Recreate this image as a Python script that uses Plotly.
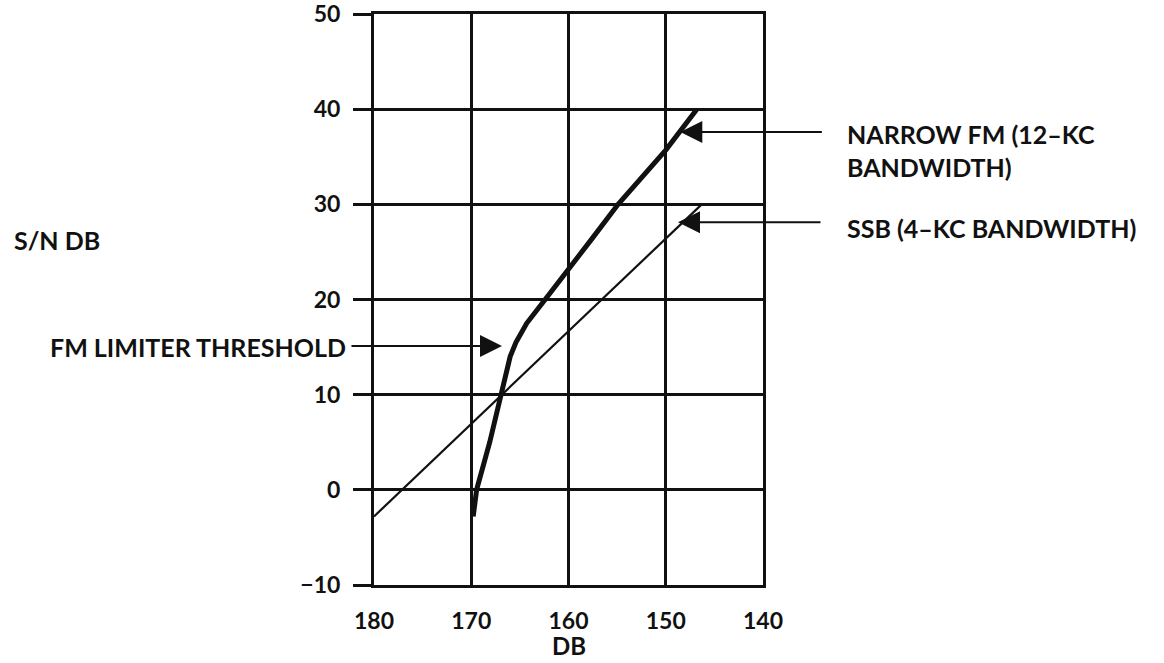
import plotly.graph_objects as go

# ---- data ----
fm_x = [169.8, 169.45, 168.1, 166.9, 166.0, 165.4, 164.3, 162.4, 160.0, 157.5, 154.9, 150.0, 146.8]
fm_y = [-2.8, 0.0, 5.0, 10.0, 14.0, 15.5, 17.5, 20.0, 23.1, 26.5, 30.0, 35.7, 40.0]
ssb_x = [180.0, 146.3]
ssb_y = [-2.8, 30.0]

x_ticks = [180, 170, 160, 150, 140]
y_ticks = [-10, 0, 10, 20, 30, 40, 50]

FONT = "Lato"
BLACK = "#111111"

fig = go.Figure()
fig.add_trace(go.Scatter(x=ssb_x, y=ssb_y, mode="lines",
                         line=dict(color=BLACK, width=2.2), showlegend=False, hoverinfo="skip"))
fig.add_trace(go.Scatter(x=fm_x, y=fm_y, mode="lines",
                         line=dict(color=BLACK, width=5), showlegend=False, hoverinfo="skip"))

fig.update_layout(
    width=1164, height=663,
    margin=dict(l=374, r=401, t=13.5, b=77.5),
    paper_bgcolor="white", plot_bgcolor="white",
    font=dict(family=FONT, size=23, color=BLACK, weight=700),
    showlegend=False,
)
fig.update_xaxes(range=[180, 140], tickvals=x_ticks, ticktext=[str(v) for v in x_ticks],
                 showgrid=True, gridcolor=BLACK, gridwidth=2.5, zeroline=False,
                 showline=True, linecolor=BLACK, linewidth=3, mirror=True,
                 ticks="", ticklabelstandoff=13, ticklabeloverflow="allow", automargin=False,
                 tickfont=dict(family=FONT, size=23, color=BLACK, weight=700))
fig.update_yaxes(range=[-10, 50], tickvals=y_ticks,
                 ticktext=[("\u221210" if v < 0 else str(v)) for v in y_ticks],
                 showgrid=True, gridcolor=BLACK, gridwidth=2.5, zeroline=False,
                 showline=True, linecolor=BLACK, linewidth=3, mirror=True,
                 ticks="outside", ticklen=18, tickwidth=2.5, tickcolor=BLACK,
                 ticklabelstandoff=8, ticklabeloverflow="allow", automargin=False,
                 tickfont=dict(family=FONT, size=23, color=BLACK, weight=700))

afont = dict(family=FONT, size=25, color=BLACK, weight=700)
# arrows: tip in data coords, tail as pixel offset
arrows = [
    (148.5, 37.6, 143),    # narrow FM
    (148.74, 28.13, 144),  # SSB
    (166.84, 15.12, -152)  # FM limiter threshold
]
for x, y, ax in arrows:
    fig.add_annotation(x=x, y=y, xref="x", yref="y", ax=ax, ay=0, text="",
                       showarrow=True, arrowhead=2, arrowsize=2.2, arrowwidth=2,
                       arrowcolor=BLACK)

fig.add_annotation(x=1.2108, y=0.7614, xref="paper", yref="paper",
                   text="NARROW FM (12\u2013KC<br>BANDWIDTH)", showarrow=False,
                   xanchor="left", yanchor="middle", align="left", font=afont)
fig.add_annotation(x=1.2108, y=0.625, xref="paper", yref="paper",
                   text="SSB (4\u2013KC BANDWIDTH)", showarrow=False,
                   xanchor="left", yanchor="middle", align="left", font=afont)
fig.add_annotation(x=-0.066, y=0.417, xref="paper", yref="paper",
                   text="FM LIMITER THRESHOLD", showarrow=False,
                   xanchor="right", yanchor="middle", align="right", font=afont)
fig.add_annotation(x=-0.9306, y=0.604, xref="paper", yref="paper",
                   text="S/N DB", showarrow=False,
                   xanchor="left", yanchor="middle", align="left", font=afont)
fig.add_annotation(x=0.5, y=-0.106, xref="paper", yref="paper",
                   text="DB", showarrow=False,
                   xanchor="center", yanchor="middle",
                   font=dict(family=FONT, size=24, color=BLACK, weight=700))

fig.write_html("out.html", config={"displayModeBar": False},
               post_script="document.body.style.margin='0';document.body.style.overflow='hidden';")
